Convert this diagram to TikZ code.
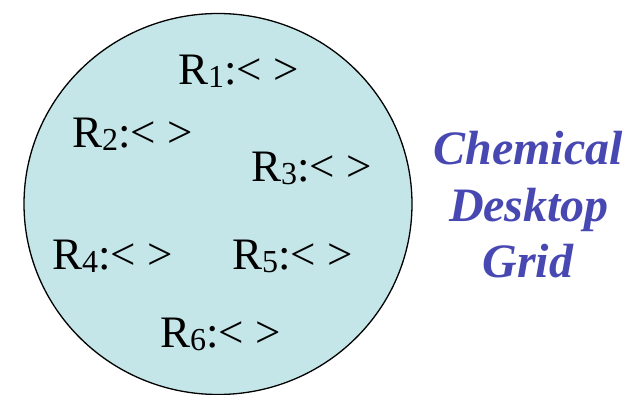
\documentclass[tikz,border=0pt]{standalone}
\usepackage{fontspec}
\setmainfont{Liberation Serif}
\definecolor{cellfill}{HTML}{C4E6E8}
\definecolor{titleblue}{HTML}{4848B2}
\tikzset{
  reslabel/.style={anchor=base west, inner sep=0pt, font=\fontsize{45}{45}\selectfont, text=black},
  gridtitle/.style={anchor=base, inner sep=0pt, font=\fontsize{48}{48}\selectfont\bfseries\itshape, text=titleblue}
}
\newcommand{\reslab}[1]{R\raisebox{-3pt}{\fontsize{32}{32}\selectfont #1}:<\ >}
\begin{document}
\begin{tikzpicture}[x=1pt,y=-1pt]
\useasboundingbox (0,0) rectangle (630,395);
\begin{scope}
\clip (0,0) rectangle (630,395);
\draw[fill=cellfill, line width=1.3pt] (218,204) ellipse [x radius=194, y radius=190.5];
\end{scope}
\node[reslabel] (r1) at (178,85) {\reslab{1}};
\node[reslabel] (r2) at (72,148) {\reslab{2}};
\node[reslabel] (r3) at (251,182) {\reslab{3}};
\node[reslabel] (r4) at (52,270) {\reslab{4}};
\node[reslabel] (r5) at (232,270) {\reslab{5}};
\node[reslabel] (r6) at (160,348) {\reslab{6}};
\node[gridtitle] (t1) at (528,165) {Chemical};
\node[gridtitle] (t2) at (529,221.5) {Desktop};
\node[gridtitle] (t3) at (528,278) {Grid};
\end{tikzpicture}
\end{document}
